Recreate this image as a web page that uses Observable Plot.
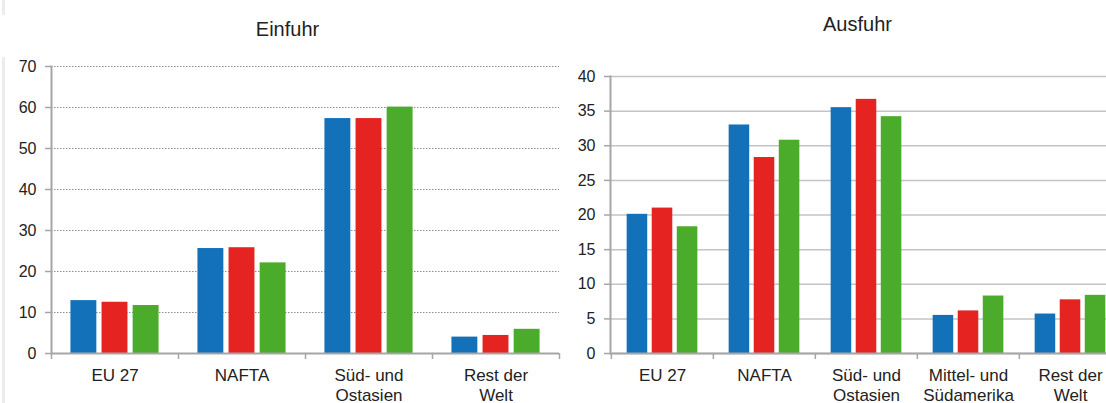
<!DOCTYPE html>
<html>
<head>
<meta charset="utf-8">
<script src="https://cdn.jsdelivr.net/npm/d3@7"></script>
<script src="https://cdn.jsdelivr.net/npm/@observablehq/plot@0.6"></script>
<style>
  html, body { margin: 0; padding: 0; background: #fff; overflow: hidden; width: 1106px; height: 403px; }
  body { position: relative; font-family: "Liberation Sans", Arial, sans-serif; }
  .panel { position: absolute; top: 0; }
  .title { box-sizing: border-box; text-align: center; font-size: 20px; line-height: 24px; color: #222; }
  .edge { position: absolute; left: 2px; width: 3px; background: #ececec; }
  svg { display: block; overflow: visible; }
</style>
</head>
<body>
<div class="edge" style="top:0;height:15px"></div>
<div class="edge" style="top:57px;height:346px"></div>
<div class="panel" id="left" style="left:0;width:575px">
  <div class="title" style="height:45px;padding-top:17px">Einfuhr</div>
</div>
<div class="panel" id="right" style="left:575px;width:565px">
  <div class="title" style="height:40px;padding-top:12px">Ausfuhr</div>
</div>
<script>
// ---- data ----
const seriesColors = ["#1271b9", "#e52421", "#4bab2b"];

const importCategories = ["EU 27", "NAFTA", "Süd- und Ostasien", "Rest der Welt"];
const importLabels = ["EU 27", "NAFTA", "Süd- und\nOstasien", "Rest der\nWelt"];
const importSeries1 = [12.9, 25.6, 57.3, 4.0];
const importSeries2 = [12.5, 25.8, 57.3, 4.4];
const importSeries3 = [11.7, 22.1, 60.1, 5.9];
const importTicks = [0, 10, 20, 30, 40, 50, 60, 70];

const exportCategories = ["EU 27", "NAFTA", "Süd- und Ostasien", "Mittel- und Südamerika", "Rest der Welt"];
const exportLabels = ["EU 27", "NAFTA", "Süd- und\nOstasien", "Mittel- und\nSüdamerika", "Rest der\nWelt"];
const exportSeries1 = [20.1, 33.0, 35.5, 5.5, 5.7];
const exportSeries2 = [21.0, 28.3, 36.7, 6.15, 7.75];
const exportSeries3 = [18.3, 30.8, 34.2, 8.3, 8.4];
const exportTicks = [0, 5, 10, 15, 20, 25, 30, 35, 40];

const axisColor = "#a6a6a6";

function drawPanel(container, cfg) {
  const {categories, labels, series, ticks, width, height, marginLeft, marginRight, marginTop, marginBottom, grid} = cfg;
  const n = categories.length;
  const bw = (width - marginLeft - marginRight) / n;
  const plotH = height - marginTop - marginBottom;
  const barW = 0.204 * bw, step = 0.245 * bw;
  const labelOf = new Map(categories.map((c, i) => [c, labels[i]]));
  const rows = series.map(vals => categories.map((c, i) => ({cat: c, value: vals[i]})));
  const chart = Plot.plot({
    width, height, marginLeft, marginRight, marginTop, marginBottom,
    style: {fontFamily: '"Liberation Sans", Arial, sans-serif', background: "transparent", color: "#222"},
    x: {domain: categories, padding: 0, label: null},
    y: {domain: [0, d3.max(ticks)], label: null},
    marks: [
      Plot.gridY({ticks, ...grid}),
      ...rows.map((data, s) => Plot.barY(data, {
        x: "cat", y: "value", fill: seriesColors[s],
        dx: (s - 1) * step, insetLeft: (bw - barW) / 2, insetRight: (bw - barW) / 2
      })),
      Plot.ruleY([0], {stroke: axisColor, strokeWidth: 2}),
      Plot.frame({anchor: "left", stroke: axisColor, strokeWidth: 2}),
      Plot.axisY({ticks, label: null, tickSize: 6, tickPadding: 9, fontSize: 16, stroke: axisColor, strokeWidth: 1.5, fill: "#222"}),
      Plot.tickX(categories, {x: d => d, dx: -bw / 2, dy: 6, insetTop: plotH - 6, stroke: axisColor, strokeWidth: 1.5}),
      Plot.tickX([categories[n - 1]], {x: d => d, dx: bw / 2, dy: 6, insetTop: plotH - 6, stroke: axisColor, strokeWidth: 1.5}),
      Plot.axisX({label: null, tickSize: 0, tickPadding: 13, fontSize: 17, lineHeight: 1.2, fill: "#222", tickFormat: d => labelOf.get(d)})
    ]
  });
  container.appendChild(chart);
}

drawPanel(document.getElementById("left"), {
  categories: importCategories, labels: importLabels,
  series: [importSeries1, importSeries2, importSeries3], ticks: importTicks,
  width: 575, height: 358, marginLeft: 51, marginRight: 16, marginTop: 21, marginBottom: 50,
  grid: {stroke: "#8f8f8f", strokeOpacity: 1, strokeWidth: 1, strokeDasharray: "1.5,1.5"}
});

drawPanel(document.getElementById("right"), {
  categories: exportCategories, labels: exportLabels,
  series: [exportSeries1, exportSeries2, exportSeries3], ticks: exportTicks,
  width: 565, height: 363, marginLeft: 35, marginRight: 18.5, marginTop: 36, marginBottom: 50,
  grid: {stroke: "#c4c4c4", strokeOpacity: 1, strokeWidth: 1.5}
});
</script>
</body>
</html>
